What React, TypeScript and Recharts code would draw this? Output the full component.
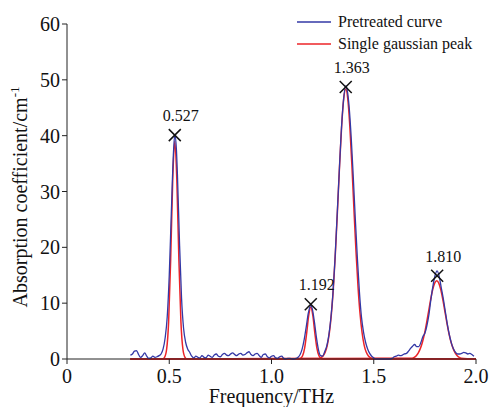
import React from "react";
import {
  ComposedChart,
  Line,
  Scatter,
  XAxis,
  YAxis,
  Legend,
} from "recharts";

const FONT = "'Liberation Serif', 'Times New Roman', serif";
const BLUE = "#3338a6";
const RED = "#ec2428";

// pretreated (measured) curve
const blueFreq = [
  0.31, 0.32, 0.33, 0.34, 0.35, 0.36, 0.37, 0.38, 0.39, 0.4, 0.41, 0.42, 0.43,
  0.44, 0.45, 0.46, 0.47, 0.48, 0.49, 0.5, 0.51, 0.52, 0.527, 0.535, 0.54, 0.55,
  0.56, 0.57, 0.58, 0.59, 0.6, 0.61, 0.62, 0.63, 0.64, 0.65, 0.66, 0.67, 0.68,
  0.69, 0.7, 0.71, 0.72, 0.73, 0.74, 0.75, 0.76, 0.77, 0.78, 0.79, 0.8, 0.81,
  0.82, 0.83, 0.84, 0.85, 0.86, 0.87, 0.88, 0.89, 0.9, 0.91, 0.92, 0.93, 0.94,
  0.95, 0.96, 0.97, 0.98, 0.99, 1.0, 1.01, 1.02, 1.03, 1.04, 1.05, 1.06, 1.07,
  1.08, 1.09, 1.1, 1.11, 1.12, 1.13, 1.14, 1.15, 1.16, 1.17, 1.18, 1.192, 1.2,
  1.21, 1.22, 1.23, 1.24, 1.25, 1.26, 1.27, 1.28, 1.29, 1.3, 1.31, 1.32, 1.33,
  1.34, 1.35, 1.363, 1.37, 1.38, 1.39, 1.4, 1.41, 1.42, 1.43, 1.44, 1.45, 1.46,
  1.47, 1.48, 1.49, 1.5, 1.51, 1.52, 1.54, 1.56, 1.58, 1.59, 1.6, 1.61, 1.62,
  1.63, 1.64, 1.65, 1.66, 1.67, 1.68, 1.69, 1.7, 1.71, 1.72, 1.73, 1.74, 1.75,
  1.76, 1.77, 1.78, 1.79, 1.8, 1.81, 1.82, 1.83, 1.84, 1.85, 1.86, 1.87, 1.88,
  1.89, 1.9, 1.91, 1.92, 1.93, 1.94, 1.95, 1.96, 1.97, 1.98, 1.99,
];
const blueAbs = [
  0.7, 0.9, 1.4, 1.5, 0.8, 0.3, 0.6, 1.1, 0.5, 0.1, 0.2, 0.5, 0.3,
  0.4, 0.6, 0.9, 1.8, 3.8, 7.5, 15, 26, 36.5, 40.2, 37.5, 33, 21,
  11, 5.5, 3.0, 1.8, 1.2, 0.5, 0.2, 0.5, 0.3, 0.2, 0.6, 0.3, 0.2,
  0.7, 0.5, 0.3, 0.7, 0.9, 0.5, 0.4, 0.8, 1.0, 0.7, 0.6, 0.9, 1.1,
  0.8, 0.6, 0.9, 1.0, 0.7, 0.8, 1.1, 1.3, 0.8, 0.6, 0.9, 1.0, 0.6,
  0.3, 0.8, 0.9, 0.4, 0.2, 0.5, 0.6, 0.2, 0.1, 0.4, 0.5, 0.1, 0.0,
  0.1, 0.1, 0.0, 0.0, 0.1, 0.3, 0.8, 1.8, 3.5, 5.8, 8.2, 9.6, 8.9,
  6.6, 3.8, 1.6, 0.6, 0.5, 1.3, 2.3, 4.2, 7.2, 11.5, 17.5, 25, 32.5,
  40, 45.5, 48.9, 48.2, 45, 39.5, 32.5, 25, 18, 12, 7.5, 4.8, 3.0,
  1.8, 1.0, 0.5, 0.2, 0.0, 0.0, 0.0, 0.0, 0.0, 0.1, 0.4, 0.5, 0.7,
  0.6, 0.7, 0.9, 1.0, 1.4, 1.9, 2.3, 2.6, 2.2, 2.2, 2.9, 4.0, 4.6,
  6.0, 8.0, 10.8, 13.2, 15.0, 15.8, 14.8, 12.8, 10.8, 8.5, 6.2, 4.3, 2.8,
  1.8, 1.2, 0.9, 0.9, 1.0, 1.2, 1.1, 0.9, 1.0, 0.8, 0.5,
];

// single gaussian fits
const peak1Freq = [0.31, 0.467, 0.477, 0.487, 0.497, 0.507, 0.517, 0.527, 0.537, 0.547, 0.557, 0.567, 0.577, 0.587, 2.0];
const peak1Abs = [0, 0, 0.3, 1.7, 6.7, 17.9, 32.1, 39, 32.1, 17.9, 6.7, 1.7, 0.3, 0, 0];

const peak2Freq = [0.31, 1.132, 1.142, 1.152, 1.162, 1.172, 1.182, 1.192, 1.202, 1.212, 1.222, 1.232, 1.242, 1.252, 2.0];
const peak2Abs = [0, 0.02, 0.12, 0.58, 1.96, 4.65, 7.8, 9.3, 7.8, 4.65, 1.96, 0.58, 0.12, 0.02, 0];

const peak3Freq = [
  0.31, 1.233, 1.243, 1.253, 1.263, 1.273, 1.283, 1.293, 1.303, 1.313, 1.323, 1.333, 1.343, 1.353,
  1.363, 1.373, 1.383, 1.393, 1.403, 1.413, 1.423, 1.433, 1.443, 1.453, 1.463, 1.473, 1.483, 1.493, 2.0,
];
const peak3Abs = [
  0, 0.1, 0.25, 0.58, 1.25, 2.5, 4.7, 8.1, 13.0, 19.4, 26.9, 34.8, 41.7, 46.6,
  48.3, 46.6, 41.7, 34.8, 26.9, 19.4, 13.0, 8.1, 4.7, 2.5, 1.25, 0.58, 0.25, 0.1, 0,
];

const peak4Freq = [
  0.31, 1.688, 1.698, 1.708, 1.718, 1.728, 1.738, 1.748, 1.758, 1.768, 1.778, 1.788, 1.798,
  1.808, 1.818, 1.828, 1.838, 1.848, 1.858, 1.868, 1.878, 1.888, 1.898, 1.908, 1.918, 1.928, 2.0,
];
const peak4Abs = [
  0, 0.15, 0.3, 0.6, 1.1, 1.9, 3.0, 4.5, 6.4, 8.5, 10.6, 12.4, 13.6,
  14, 13.6, 12.4, 10.6, 8.5, 6.4, 4.5, 3.0, 1.9, 1.1, 0.6, 0.3, 0.15, 0,
];

// marked peak maxima
const markFreq = [0.527, 1.192, 1.363, 1.81];
const markAbs = [40.1, 9.8, 48.7, 14.9];
const markLabels = ["0.527", "1.192", "1.363", "1.810"];

const xTicks = [0, 0.5, 1.0, 1.5, 2.0];
const yTicks = [0, 10, 20, 30, 40, 50, 60];

const toPoints = (fs: number[], vs: number[]) =>
  fs.map((f, i) => ({ freq: f, abs: vs[i] }));

const bluePts = toPoints(blueFreq, blueAbs);
const gaussSets = [
  toPoints(peak1Freq, peak1Abs),
  toPoints(peak2Freq, peak2Abs),
  toPoints(peak3Freq, peak3Abs),
  toPoints(peak4Freq, peak4Abs),
];
const markPts = markFreq.map((f, i) => ({ freq: f, abs: markAbs[i], label: markLabels[i] }));

function Cross(props: any) {
  const { cx, cy, payload } = props;
  const s = 6;
  return (
    <g>
      <line x1={cx - s} y1={cy - s} x2={cx + s} y2={cy + s} stroke="#111" strokeWidth={1.5} />
      <line x1={cx - s} y1={cy + s} x2={cx + s} y2={cy - s} stroke="#111" strokeWidth={1.5} />
      <text x={cx - 12} y={cy - 14} fontFamily={FONT} fontSize={16} fill="#111">
        {payload.label}
      </text>
    </g>
  );
}

function LegendBox() {
  const items = [
    { name: "Pretreated curve", color: BLUE },
    { name: "Single gaussian peak", color: RED },
  ];
  return (
    <div style={{ fontFamily: FONT, fontSize: 16, color: "#111" }}>
      {items.map((it) => (
        <div key={it.name} style={{ display: "flex", alignItems: "center", height: 22, whiteSpace: "nowrap" }}>
          <svg width={34} height={4}>
            <line x1={0} y1={2} x2={34} y2={2} stroke={it.color} strokeWidth={1.5} />
          </svg>
          <span style={{ marginLeft: 7 }}>{it.name}</span>
        </div>
      ))}
    </div>
  );
}

const YTitle = () => (
  <text
    transform="translate(27, 197) rotate(-90)"
    textAnchor="middle"
    fontFamily={FONT}
    fontSize={20}
    fill="#111"
  >
    Absorption coefficient/cm
    <tspan dy={-8} fontSize={13}>-1</tspan>
  </text>
);

export default function App() {
  return (
    <div style={{ position: "absolute", left: 0, top: 0, width: 491, height: 407, background: "#fff" }}>
      <ComposedChart width={491} height={407} margin={{ top: 24, right: 15, bottom: 0, left: 0 }}>
        <XAxis
          type="number"
          dataKey="freq"
          domain={[0, 2]}
          ticks={xTicks}
          allowDataOverflow
          height={48}
          tickSize={5}
          tickMargin={5}
          tickFormatter={(v: number) => (v === 0 ? "0" : v.toFixed(1))}
          stroke="#222"
          tick={{ fill: "#111", fontFamily: FONT, fontSize: 20 }}
          label={{
            value: "Frequency/THz",
            position: "insideBottom",
            offset: 4,
            fill: "#111",
            fontFamily: FONT,
            fontSize: 20,
          }}
        />
        <YAxis
          type="number"
          dataKey="abs"
          domain={[0, 60]}
          ticks={yTicks}
          width={67}
          tickSize={5}
          tickMargin={2}
          stroke="#222"
          tick={{ fill: "#111", fontFamily: FONT, fontSize: 20 }}
          label={{ content: () => <YTitle /> }}
        />
        <Legend
          layout="vertical"
          align="center"
          verticalAlign="middle"
          content={() => <LegendBox />}
          wrapperStyle={{ top: 11, left: 297, width: "auto" }}
        />
        {gaussSets.map((pts, i) => (
          <Line
            key={i}
            data={pts}
            dataKey="abs"
            type="monotone"
            stroke={RED}
            strokeWidth={1.5}
            dot={false}
            activeDot={false}
            legendType="none"
            isAnimationActive={false}
          />
        ))}
        <Line
          data={bluePts}
          dataKey="abs"
          type="monotone"
          stroke={BLUE}
          strokeWidth={1.3}
          dot={false}
          activeDot={false}
          isAnimationActive={false}
        />
        <Scatter data={markPts} dataKey="abs" shape={<Cross />} isAnimationActive={false} />
      </ComposedChart>
    </div>
  );
}
